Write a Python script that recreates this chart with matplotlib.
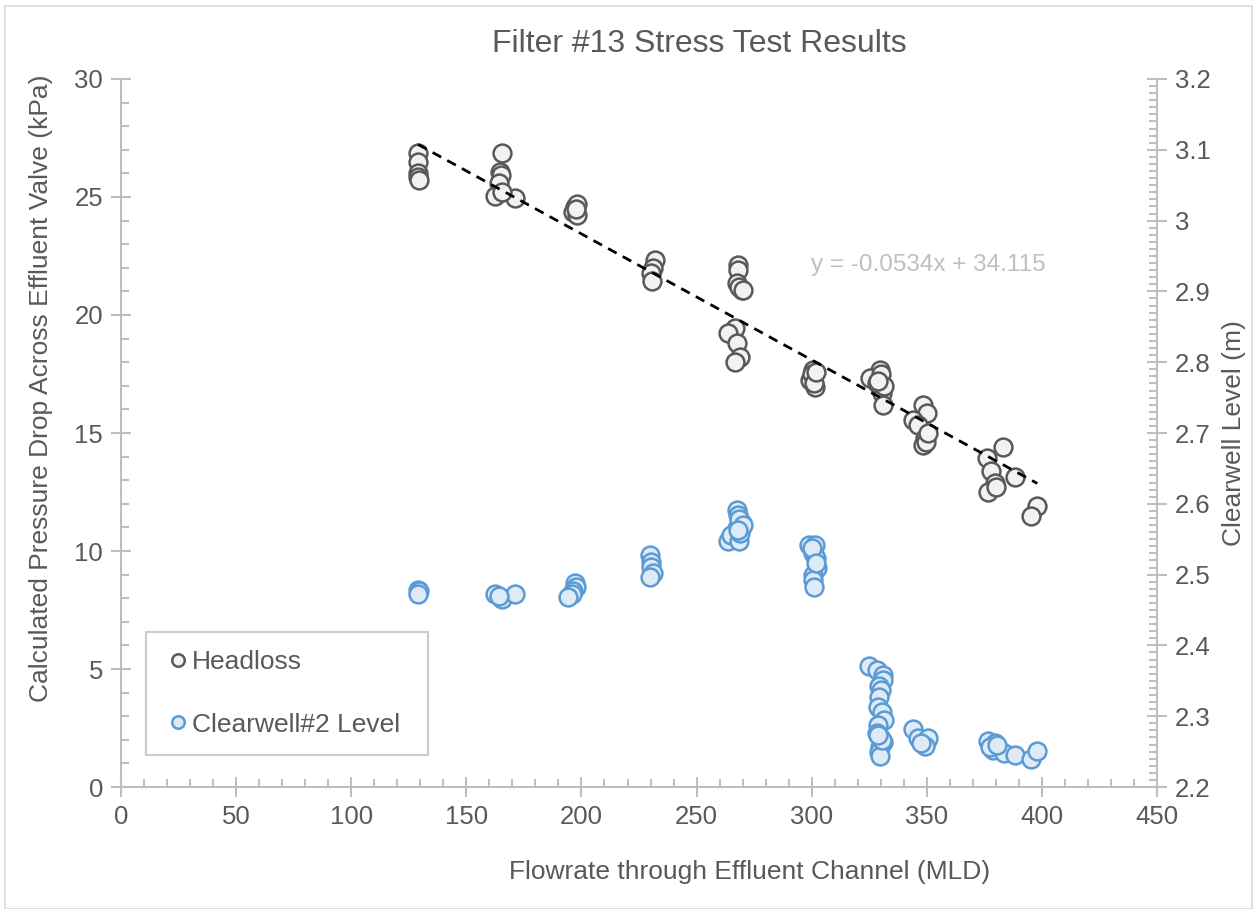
import numpy as np
import matplotlib.pyplot as plt
from matplotlib.ticker import MultipleLocator, FuncFormatter
from matplotlib.lines import Line2D
from matplotlib.patches import Rectangle

# Headloss (kPa, left axis)
hl_x = [129, 129, 129, 129, 129.5,
        165.5, 164.6, 164.9, 164, 162.5, 171.2, 165.5,
        197.2, 198, 196.5, 198, 197.5,
        232, 231, 230.3, 230.5,
        268, 268, 267.6, 269.8, 268.5, 270,
        266.7, 263.7, 267.6, 269, 266.7,
        300.6, 299.3, 301.5, 300.3, 301, 302,
        329.7, 325.4, 330.6, 331, 328.3, 330, 331.5, 329,
        348.4, 350, 344, 346, 349, 348.4, 349.5, 350.5,
        383, 376, 378, 379.7, 376.6, 388.4, 380,
        398, 395.3]
hl_y = [26.86, 26.48, 26.02, 25.85, 25.7,
        26.86, 26.06, 25.93, 25.6, 25.04, 24.96, 25.2,
        24.58, 24.7, 24.36, 24.24, 24.5,
        22.33, 21.99, 21.78, 21.44,
        22.12, 21.9, 21.36, 21.06, 21.2, 21.06,
        19.45, 19.24, 18.81, 18.22, 18.0,
        17.67, 17.25, 16.95, 17.5, 17.1, 17.6,
        17.67, 17.33, 16.7, 16.19, 17.1, 17.5, 17.0, 17.2,
        16.19, 15.85, 15.55, 15.34, 14.79, 14.49, 14.6, 15.0,
        14.41, 13.94, 13.39, 12.88, 12.5, 13.14, 12.7,
        11.9, 11.48]

# Clearwell #2 level (m, right axis)
cw_x = [129, 129.3, 128.8,
        162.5, 165, 165.3, 171, 164,
        197.2, 197.5, 196.5, 196, 194.3,
        229.8, 230.3, 230.3, 231, 229.8,
        267.6, 268, 269.8, 267.6, 263.7, 265, 268.5, 269, 268.5, 270, 268,
        298.9, 301.5, 300.7, 301.9, 302.3, 300.7, 300.7, 301.1, 300, 302,
        325, 328.3, 330.9, 331, 329.2, 330.1, 329.2, 328.8, 330.5, 331.5,
        328.8, 328.3, 329.7, 331, 329.7, 329.2, 329.7, 330.5, 329,
        344, 346, 350, 350.5, 349, 347.5,
        376.6, 379.7, 378.8, 377.5, 383.6, 388.4, 395.3, 398, 380.5]
cw_y = [2.478, 2.477, 2.473,
        2.472, 2.467, 2.465, 2.473, 2.470,
        2.488, 2.482, 2.477, 2.472, 2.468,
        2.528, 2.518, 2.511, 2.502, 2.497,
        2.591, 2.584, 2.573, 2.566, 2.547, 2.556, 2.547, 2.559, 2.578, 2.570, 2.563,
        2.542, 2.542, 2.530, 2.523, 2.510, 2.499, 2.492, 2.483, 2.537, 2.517,
        2.371, 2.365, 2.358, 2.351, 2.343, 2.337, 2.327, 2.313, 2.306, 2.295,
        2.288, 2.276, 2.271, 2.264, 2.256, 2.249, 2.244, 2.267, 2.273,
        2.282, 2.269, 2.266, 2.269, 2.258, 2.262,
        2.265, 2.262, 2.252, 2.256, 2.248, 2.245, 2.240, 2.251, 2.260]

# linear trend shown on chart
slope = -0.0534
intercept = 34.115

TXT = '#595959'
AXC = '#BFBFBF'
plt.rcParams['font.family'] = ['Liberation Sans', 'DejaVu Sans']

fig = plt.figure(figsize=(12.53, 9.09), dpi=100)
ax = fig.add_axes([0.0966, 0.1342, 0.8268, 0.7789])
ax2 = ax.twinx()

ax.scatter(hl_x, hl_y, s=165, facecolor='#F2F2F2', edgecolor='#595959', linewidths=1.8, zorder=3)
ax2.scatter(cw_x, cw_y, s=165, facecolor='#DEEBF7', edgecolor='#5B9BD5', linewidths=1.8, zorder=3)

tx = np.array([min(hl_x), max(hl_x)])
ax.plot(tx, slope * tx + intercept, color='black', lw=2, ls=(0, (3.5, 2.5)), zorder=4)
ax.text(350.6, 22.1, 'y = -0.0534x + 34.115', color='#BFBFBF', fontsize=17.5,
        ha='center', va='center')

ax.set_xlim(0, 450)
ax.set_ylim(0, 30)
ax2.set_ylim(2.2, 3.2)

ax.xaxis.set_major_locator(MultipleLocator(50))
ax.xaxis.set_minor_locator(MultipleLocator(10))
ax.yaxis.set_major_locator(MultipleLocator(5))
ax.yaxis.set_minor_locator(MultipleLocator(1))
ax2.yaxis.set_major_locator(MultipleLocator(0.1))
ax2.yaxis.set_minor_locator(MultipleLocator(0.01))
ax2.yaxis.set_major_formatter(FuncFormatter(lambda v, p: '%g' % round(v, 2)))

for a in (ax, ax2):
    for s in a.spines.values():
        s.set_color(AXC)
        s.set_linewidth(1.5)
    a.spines['top'].set_visible(False)
    a.tick_params(which='major', direction='inout', length=14, width=1.5, color=AXC,
                  labelsize=18.5, labelcolor=TXT, pad=6)
    a.tick_params(which='minor', direction='in', length=6, width=1.5, color=AXC)
ax.spines['right'].set_visible(False)
ax2.spines['left'].set_visible(False)
ax2.spines['bottom'].set_visible(False)

# Excel centres the titles on the plot area incl. labels, so place them by hand
fig.text(699.5 / 1253, 1 - 44 / 909, 'Filter #13 Stress Test Results', fontsize=23,
         color=TXT, ha='center', va='center')
ax.set_xlabel('Flowrate through Effluent Channel (MLD)', fontsize=19, color=TXT)
ax.xaxis.set_label_coords((750 - 121) / 1036, -(872 - 787) / 708)
ax.xaxis.label.set_va('center')
ax.set_ylabel('Calculated Pressure Drop Across Effluent Valve (kPa)', fontsize=19, color=TXT)
ax.yaxis.set_label_coords(-(121 - 41) / 1036, (787 - 388) / 708)
ax.yaxis.label.set_va('center')
ax2.set_ylabel('Clearwell Level (m)', fontsize=19, color=TXT, labelpad=8)

handles = [Line2D([], [], ls='none', marker='o', ms=9, mfc='#F2F2F2', mec='#595959', mew=1.8),
           Line2D([], [], ls='none', marker='o', ms=9, mfc='#DEEBF7', mec='#5B9BD5', mew=1.8)]
leg = ax2.legend(handles, ['Headloss', 'Clearwell#2 Level'], loc='lower left',
                 bbox_to_anchor=(146 / 1253, 1 - 755 / 909, 282 / 1253, 121 / 909),
                 bbox_transform=fig.transFigure, mode='expand', borderaxespad=0,
                 fontsize=19, labelcolor=TXT, frameon=True, fancybox=False,
                 handlelength=1.0, handletextpad=0.05, labelspacing=1.45, borderpad=0.7)
leg.get_frame().set_edgecolor(AXC)
leg.get_frame().set_linewidth(1.5)

fig.patches.append(Rectangle((0.004, 0.0), 0.995, 0.993, transform=fig.transFigure,
                             fill=False, edgecolor='#D9D9D9', lw=1.2))

fig.savefig('out.png', dpi=100)
